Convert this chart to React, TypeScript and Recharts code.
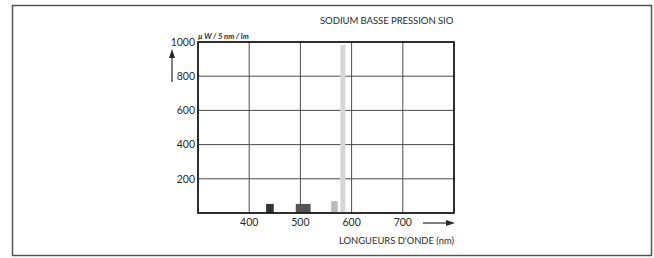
import { LineChart, Line, XAxis, YAxis, CartesianGrid, ReferenceArea } from 'recharts'

// spectral bands (nm) and their relative power
const bandStart = [433, 491, 560, 578]
const bandEnd = [448, 520, 573, 588]
const bandValue = [53, 53, 70, 982]
const bandColor = ['#333333', '#555555', '#bbbbbb', '#d6d6d6']

const xTicks = [400, 500, 600, 700]
const yTicks = [200, 400, 600, 800, 1000]

const data = bandStart.map((s, i) => ({ nm: (s + bandEnd[i]) / 2, value: bandValue[i] }))

const font = 'Lato, "DejaVu Sans", sans-serif'
const ink = '#2a2a2a'

export default function App() {
  return (
    <div style={{ position: 'absolute', left: 0, top: 0, width: 654, height: 258, background: '#fff' }}>
      <LineChart
        width={654}
        height={258}
        data={data}
        margin={{ top: 42, right: 200, bottom: 15, left: 138 }}
      >
        <CartesianGrid stroke="#4a4a4a" strokeWidth={1} />
        <XAxis
          dataKey="nm"
          type="number"
          domain={[300, 800]}
          ticks={xTicks}
          height={30}
          tickSize={0}
          tickMargin={6}
          axisLine={false}
          tick={{ fill: ink, fontSize: 10.5, fontFamily: font }}
        />
        <YAxis
          type="number"
          domain={[0, 1000]}
          ticks={yTicks}
          width={60}
          tickSize={0}
          tickMargin={3}
          axisLine={false}
          tick={{ fill: ink, fontSize: 10.5, fontFamily: font }}
        />
        {bandStart.map((s, i) => (
          <ReferenceArea
            key={s}
            x1={s}
            x2={bandEnd[i]}
            y1={0}
            y2={bandValue[i]}
            fill={bandColor[i]}
            fillOpacity={1}
            stroke="none"
            ifOverflow="visible"
          />
        ))}
        <Line dataKey="value" stroke="none" dot={false} isAnimationActive={false} />
      </LineChart>
      <svg
        width={654}
        height={258}
        style={{ position: 'absolute', left: 0, top: 0, pointerEvents: 'none' }}
      >
        <rect x={12.5} y={5.5} width={639} height={250} fill="none" stroke="#555" strokeWidth={1.5} />
        <rect x={198} y={42} width={256} height={171} fill="none" stroke="#111" strokeWidth={1.6} />
        <text x={320} y={24} fontFamily={font} fontSize={9.6} letterSpacing={-0.1} fill={ink}>
          SODIUM BASSE PRESSION SIO
        </text>
        <text x={198} y={39} fontFamily={font} fontSize={7.6} fontWeight="bold" fontStyle="italic" fill={ink}>
          µ W / 5 nm / lm
        </text>
        <line x1={172} y1={82} x2={172} y2={56} stroke={ink} strokeWidth={1.2} />
        <polygon points="172,49 169,58 175,58" fill={ink} />
        <line x1={423} y1={223} x2={447} y2={223} stroke={ink} strokeWidth={1.2} />
        <polygon points="455,223 446,220 446,226" fill={ink} />
        <text x={454} y={244} textAnchor="end" fontFamily={font} fontSize={9.4} fill={ink}>
          LONGUEURS D'ONDE (nm)
        </text>
      </svg>
    </div>
  )
}
